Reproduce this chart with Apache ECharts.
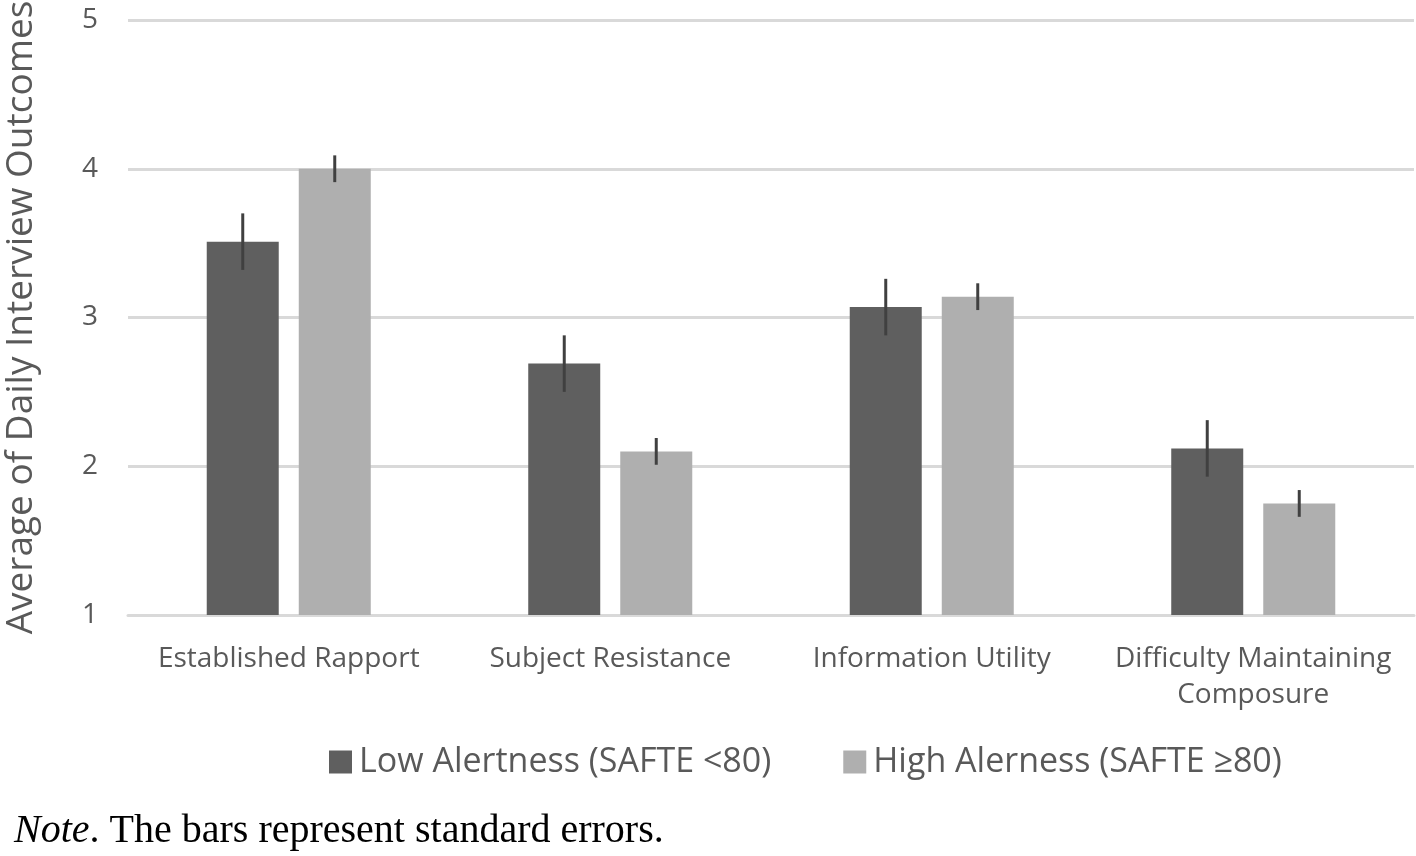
<!DOCTYPE html>
<html lang="en">
  <head>
    <meta charset="UTF-8" />
    <title>Interview outcomes by alertness</title>
    <script src="https://cdn.jsdelivr.net/npm/echarts@6/dist/echarts.min.js"></script>
    <style>
      html, body { margin: 0; padding: 0; background: #fff; }
    </style>
  </head>
  <body>
    <div id="main" style="width: 1416px; height: 856px"></div>
  </body>
</html>
<script>
  // values
  const categories = ['Established Rapport', 'Subject Resistance', 'Information Utility', 'Difficulty Maintaining\nComposure']
  const lowMeans = [3.51, 2.69, 3.07, 2.12]
  const lowSE = [0.19, 0.19, 0.19, 0.19]
  const highMeans = [4.0, 2.1, 3.14, 1.75]
  const highSE = [0.09, 0.09, 0.09, 0.09]
  const seriesNames = ['Low Alertness (SAFTE <80)', 'High Alerness (SAFTE \u226580)']

  const BAR_W = 72
  const BAR_GAP = 20

  const chartInstance = echarts.init(document.getElementById('main'))

  // error bar drawn at bar center, shifted left/right of category center
  function errorBars(means, ses, shift) {
    return {
      type: 'custom',
      z: 10,
      silent: true,
      data: means.map((m, i) => [i, m - ses[i], m + ses[i]]),
      renderItem: function (params, api) {
        const lo = api.coord([api.value(0), api.value(1)])
        const hi = api.coord([api.value(0), api.value(2)])
        const x = lo[0] + shift
        return {
          type: 'line',
          shape: { x1: x, y1: hi[1], x2: x, y2: lo[1] },
          style: { stroke: '#404040', lineWidth: 3 }
        }
      }
    }
  }

  const option = {
    animation: false,
    textStyle: { fontFamily: 'Open Sans' },
    grid: { left: 128, right: 2, top: 20, bottom: 241, containLabel: false, outerBoundsMode: 'none' },
    legend: {
      top: 740,
      left: 324,
      itemWidth: 23,
      itemHeight: 23,
      itemGap: 72,
      icon: 'rect',
      textStyle: { fontSize: 34, color: '#595959', fontFamily: 'Open Sans', padding: [0, 0, 0, 2] },
      data: seriesNames
    },
    graphic: [
      {
        type: 'text',
        left: 14,
        top: 811,
        style: {
          text: '{i|Note}. The bars represent standard errors.',
          font: '40px "Liberation Serif"',
          fill: '#000',
          rich: {
            i: { fontStyle: 'italic', fontSize: 40, fontFamily: 'Liberation Serif', fill: '#000' }
          }
        }
      }
    ],
    xAxis: {
      type: 'category',
      data: categories,
      axisLine: { lineStyle: { color: '#d9d9d9', width: 3 } },
      axisTick: { show: false },
      axisLabel: { fontSize: 28, color: '#595959', margin: 26, lineHeight: 36, interval: 0 }
    },
    yAxis: {
      type: 'value',
      min: 1,
      max: 5,
      interval: 1,
      name: 'Average of Daily Interview Outcomes',
      nameLocation: 'middle',
      nameGap: 88,
      nameTextStyle: { fontSize: 37, color: '#595959' },
      axisLine: { show: false },
      axisTick: { show: false },
      axisLabel: { fontSize: 28, color: '#595959', margin: 30 },
      splitLine: { lineStyle: { color: '#d9d9d9', width: 3 } }
    },
    series: [
      {
        name: seriesNames[0],
        type: 'bar',
        data: lowMeans,
        barWidth: BAR_W,
        barGap: (BAR_GAP / BAR_W * 100).toFixed(1) + '%',
        itemStyle: { color: '#5f5f5f' }
      },
      {
        name: seriesNames[1],
        type: 'bar',
        data: highMeans,
        barWidth: BAR_W,
        itemStyle: { color: '#afafaf' }
      },
      errorBars(lowMeans, lowSE, -(BAR_W + BAR_GAP) / 2),
      errorBars(highMeans, highSE, (BAR_W + BAR_GAP) / 2)
    ]
  }

  chartInstance.setOption(option)

  window.addEventListener('resize', () => {
    chartInstance.resize()
  })
</script>
